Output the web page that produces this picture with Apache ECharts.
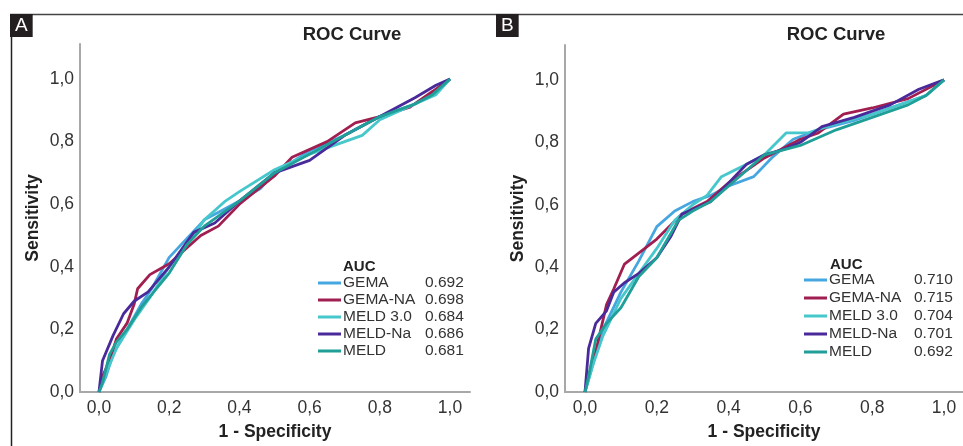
<!DOCTYPE html>
<html>
<head>
<meta charset="utf-8">
<script src="https://cdn.jsdelivr.net/npm/echarts@6/dist/echarts.min.js"></script>
<style>html,body{margin:0;padding:0;background:#fff}#c{width:963px;height:446px}</style>
</head>
<body>
<div id="c"></div>
<script>
// ---------- DATA ----------
var seriesNames = ['GEMA', 'GEMA-NA', 'MELD 3.0', 'MELD-Na', 'MELD'];
var aucA = ['0.692', '0.698', '0.684', '0.686', '0.681'];
var aucB = ['0.710', '0.715', '0.704', '0.701', '0.692'];
var tickValues = [0, 0.2, 0.4, 0.6, 0.8, 1.0];
var tickLabels = ['0,0', '0,2', '0,4', '0,6', '0,8', '1,0'];

// Panel A (x = 1 - specificity, y = sensitivity)
var aGEMA = [[0,0],[0.02,0.05],[0.04,0.12],[0.08,0.2],[0.12,0.28],[0.15,0.33],[0.2,0.43],[0.25,0.49],[0.3,0.55],[0.35,0.58],[0.4,0.61],[0.46,0.65],[0.5,0.7],[0.6,0.77],[0.7,0.82],[0.8,0.88],[0.9,0.92],[0.96,0.96],[1,1]];
var aGEMANA = [[0,0],[0.01,0.05],[0.03,0.1],[0.05,0.17],[0.08,0.22],[0.1,0.28],[0.11,0.33],[0.145,0.375],[0.2,0.41],[0.25,0.46],[0.29,0.5],[0.34,0.53],[0.4,0.6],[0.5,0.69],[0.55,0.75],[0.65,0.8],[0.73,0.86],[0.8,0.88],[0.886,0.91],[0.95,0.96],[1,1]];
var aMELD30 = [[0,0],[0.02,0.06],[0.05,0.14],[0.1,0.23],[0.15,0.31],[0.2,0.4],[0.25,0.47],[0.3,0.55],[0.36,0.61],[0.4,0.64],[0.5,0.71],[0.6,0.76],[0.7,0.8],[0.75,0.82],[0.8,0.87],[0.9,0.92],[0.96,0.95],[1,1]];
var aMELDNa = [[0,0],[0.01,0.1],[0.04,0.18],[0.07,0.25],[0.1,0.29],[0.14,0.32],[0.2,0.4],[0.27,0.51],[0.33,0.54],[0.4,0.61],[0.5,0.7],[0.6,0.74],[0.7,0.82],[0.8,0.88],[0.9,0.94],[0.96,0.98],[1,1]];
var aMELD = [[0,0],[0.01,0.03],[0.03,0.12],[0.05,0.16],[0.08,0.2],[0.12,0.27],[0.2,0.38],[0.25,0.47],[0.3,0.53],[0.4,0.61],[0.5,0.7],[0.6,0.76],[0.7,0.82],[0.8,0.88],[0.9,0.92],[0.95,0.95],[1,1]];

// Panel B
var bGEMA = [[0,0],[0.02,0.08],[0.05,0.2],[0.1,0.32],[0.15,0.42],[0.2,0.53],[0.25,0.58],[0.3,0.61],[0.35,0.63],[0.4,0.66],[0.47,0.69],[0.52,0.75],[0.58,0.81],[0.65,0.84],[0.75,0.87],[0.85,0.91],[0.95,0.95],[1,1]];
var bGEMANA = [[0,0],[0.01,0.05],[0.03,0.13],[0.06,0.28],[0.08,0.33],[0.11,0.41],[0.2,0.49],[0.27,0.57],[0.34,0.61],[0.4,0.67],[0.5,0.75],[0.6,0.81],[0.65,0.83],[0.72,0.89],[0.8,0.91],[0.9,0.94],[1,1]];
var bMELD30 = [[0,0],[0.02,0.08],[0.05,0.18],[0.1,0.3],[0.15,0.38],[0.2,0.46],[0.25,0.55],[0.3,0.6],[0.34,0.63],[0.38,0.69],[0.45,0.73],[0.5,0.76],[0.56,0.83],[0.62,0.83],[0.7,0.86],[0.8,0.89],[0.9,0.93],[0.95,0.95],[1,1]];
var bMELDNa = [[0,0],[0.01,0.14],[0.03,0.22],[0.06,0.26],[0.08,0.32],[0.11,0.35],[0.15,0.38],[0.2,0.43],[0.24,0.5],[0.27,0.57],[0.35,0.61],[0.4,0.67],[0.45,0.73],[0.5,0.76],[0.56,0.78],[0.6,0.8],[0.66,0.85],[0.75,0.88],[0.85,0.92],[0.93,0.97],[1,1]];
var bMELD = [[0,0],[0.01,0.05],[0.03,0.17],[0.06,0.22],[0.1,0.27],[0.15,0.37],[0.2,0.43],[0.26,0.55],[0.3,0.58],[0.35,0.61],[0.4,0.66],[0.5,0.76],[0.6,0.79],[0.7,0.84],[0.8,0.88],[0.9,0.92],[0.95,0.95],[1,1]];

var dataA = [aGEMA, aGEMANA, aMELD30, aMELDNa, aMELD];
var dataB = [bGEMA, bGEMANA, bMELD30, bMELDNa, bMELD];

// ---------- STYLE ----------
var colors = ['#46a6e0', '#a11f50', '#46c7cc', '#4a2a9a', '#1f9f97'];
var FONT = '"Liberation Sans", Arial, sans-serif';
var axisGray = '#a8a8a8';
var txt = '#333';

function xAxis(idx, min, max) {
  return {
    gridIndex: idx, type: 'value', min: min, max: max,
    name: '1 - Specificity', nameLocation: 'middle', nameGap: 31,
    nameTextStyle: { fontFamily: FONT, fontSize: 17.5, fontWeight: 'bold', color: '#222' },
    axisLine: { show: true, onZero: false, lineStyle: { color: axisGray, width: 2 } },
    axisTick: { show: false },
    splitLine: { show: false },
    axisLabel: {
      customValues: tickValues, margin: 7,
      fontFamily: FONT, fontSize: 17.5, color: txt,
      formatter: function (v) { var i = tickValues.indexOf(Math.round(v * 10) / 10); return i >= 0 ? tickLabels[i] : ''; }
    }
  };
}
function yAxis(idx, min, max) {
  return {
    gridIndex: idx, type: 'value', min: min, max: max,
    name: 'Sensitivity', nameLocation: 'middle', nameGap: 38,
    nameTextStyle: { fontFamily: FONT, fontSize: 17.5, fontWeight: 'bold', color: '#222' },
    axisLine: { show: true, onZero: false, lineStyle: { color: axisGray, width: 2 } },
    axisTick: { show: false },
    splitLine: { show: false },
    axisLabel: {
      customValues: tickValues, margin: 6,
      fontFamily: FONT, fontSize: 17.5, color: txt,
      formatter: function (v) { var i = tickValues.indexOf(Math.round(v * 10) / 10); return i >= 0 ? tickLabels[i] : ''; }
    }
  };
}
function legend(left, top, gap, nameW, aucs) {
  return {
    orient: 'vertical', left: left, top: top, itemGap: gap,
    itemWidth: 23, itemHeight: 3, icon: 'rect',
    data: seriesNames, selectedMode: false, padding: 0,
    textStyle: {
      fontFamily: FONT, fontSize: 15.5, color: txt, lineHeight: 14, padding: [0, 0, 0, -3],
      rich: { n: { width: nameW, fontFamily: FONT, fontSize: 15.5, color: txt, lineHeight: 14 },
              v: { fontFamily: FONT, fontSize: 15.5, color: txt, lineHeight: 14 } }
    },
    formatter: function (name) { return '{n|' + name + '}{v|' + aucs[seriesNames.indexOf(name)] + '}'; }
  };
}

var series = [];
[dataA, dataB].forEach(function (set, g) {
  set.forEach(function (d, i) {
    series.push({
      type: 'line', name: seriesNames[i], xAxisIndex: g, yAxisIndex: g,
      data: d, showSymbol: false, symbol: 'none', silent: true,
      lineStyle: { color: colors[i], width: 2.8 }, itemStyle: { color: colors[i] }
    });
  });
});

var option = {
  animation: false,
  backgroundColor: '#fff',
  color: colors,
  title: [
    { text: 'ROC Curve', left: 347, top: 20, textAlign: 'center',
      textStyle: { fontFamily: FONT, fontSize: 18.5, fontWeight: 'bold', color: '#222' } },
    { text: 'ROC Curve', left: 831, top: 20, textAlign: 'center',
      textStyle: { fontFamily: FONT, fontSize: 18.5, fontWeight: 'bold', color: '#222' } },
    { text: 'A', left: 10, top: 14, padding: [2, 5, 2, 5], backgroundColor: '#231f20',
      textStyle: { fontFamily: FONT, fontSize: 19, fontWeight: 'normal', color: '#fff', lineHeight: 19 } },
    { text: 'B', left: 496, top: 14, padding: [2, 5, 2, 5], backgroundColor: '#231f20',
      textStyle: { fontFamily: FONT, fontSize: 19, fontWeight: 'normal', color: '#fff', lineHeight: 19 } },
    { text: 'AUC', left: 343, top: 259, padding: 0,
      textStyle: { fontFamily: FONT, fontSize: 15, fontWeight: 'bold', color: '#222' } },
    { text: 'AUC', left: 830, top: 257, padding: 0,
      textStyle: { fontFamily: FONT, fontSize: 15, fontWeight: 'bold', color: '#222' } }
  ],
  legend: [
    legend(318, 275, 1, 82, aucA),
    legend(804, 272, 2, 85, aucB)
  ],
  grid: [
    { left: 80, right: 493, top: 44, bottom: 54 },
    { left: 565, right: 0, top: 45, bottom: 53 }
  ],
  xAxis: [xAxis(0, -19 / 351, 371 / 351), xAxis(1, -20 / 359, 378 / 359)],
  yAxis: [yAxis(0, 0, 348 / 313), yAxis(1, 0, 348 / 313)],
  series: series,
  graphic: [
    { type: 'line', silent: true, shape: { x1: 10, y1: 14.5, x2: 963, y2: 14.5 }, style: { stroke: '#444', lineWidth: 1.5 } },
    { type: 'line', silent: true, shape: { x1: 11.5, y1: 14, x2: 11.5, y2: 446 }, style: { stroke: '#222', lineWidth: 1.5 } }
  ]
};

var chart = echarts.init(document.getElementById('c'), null, { renderer: 'canvas' });
chart.setOption(option);
</script>
</body>
</html>
